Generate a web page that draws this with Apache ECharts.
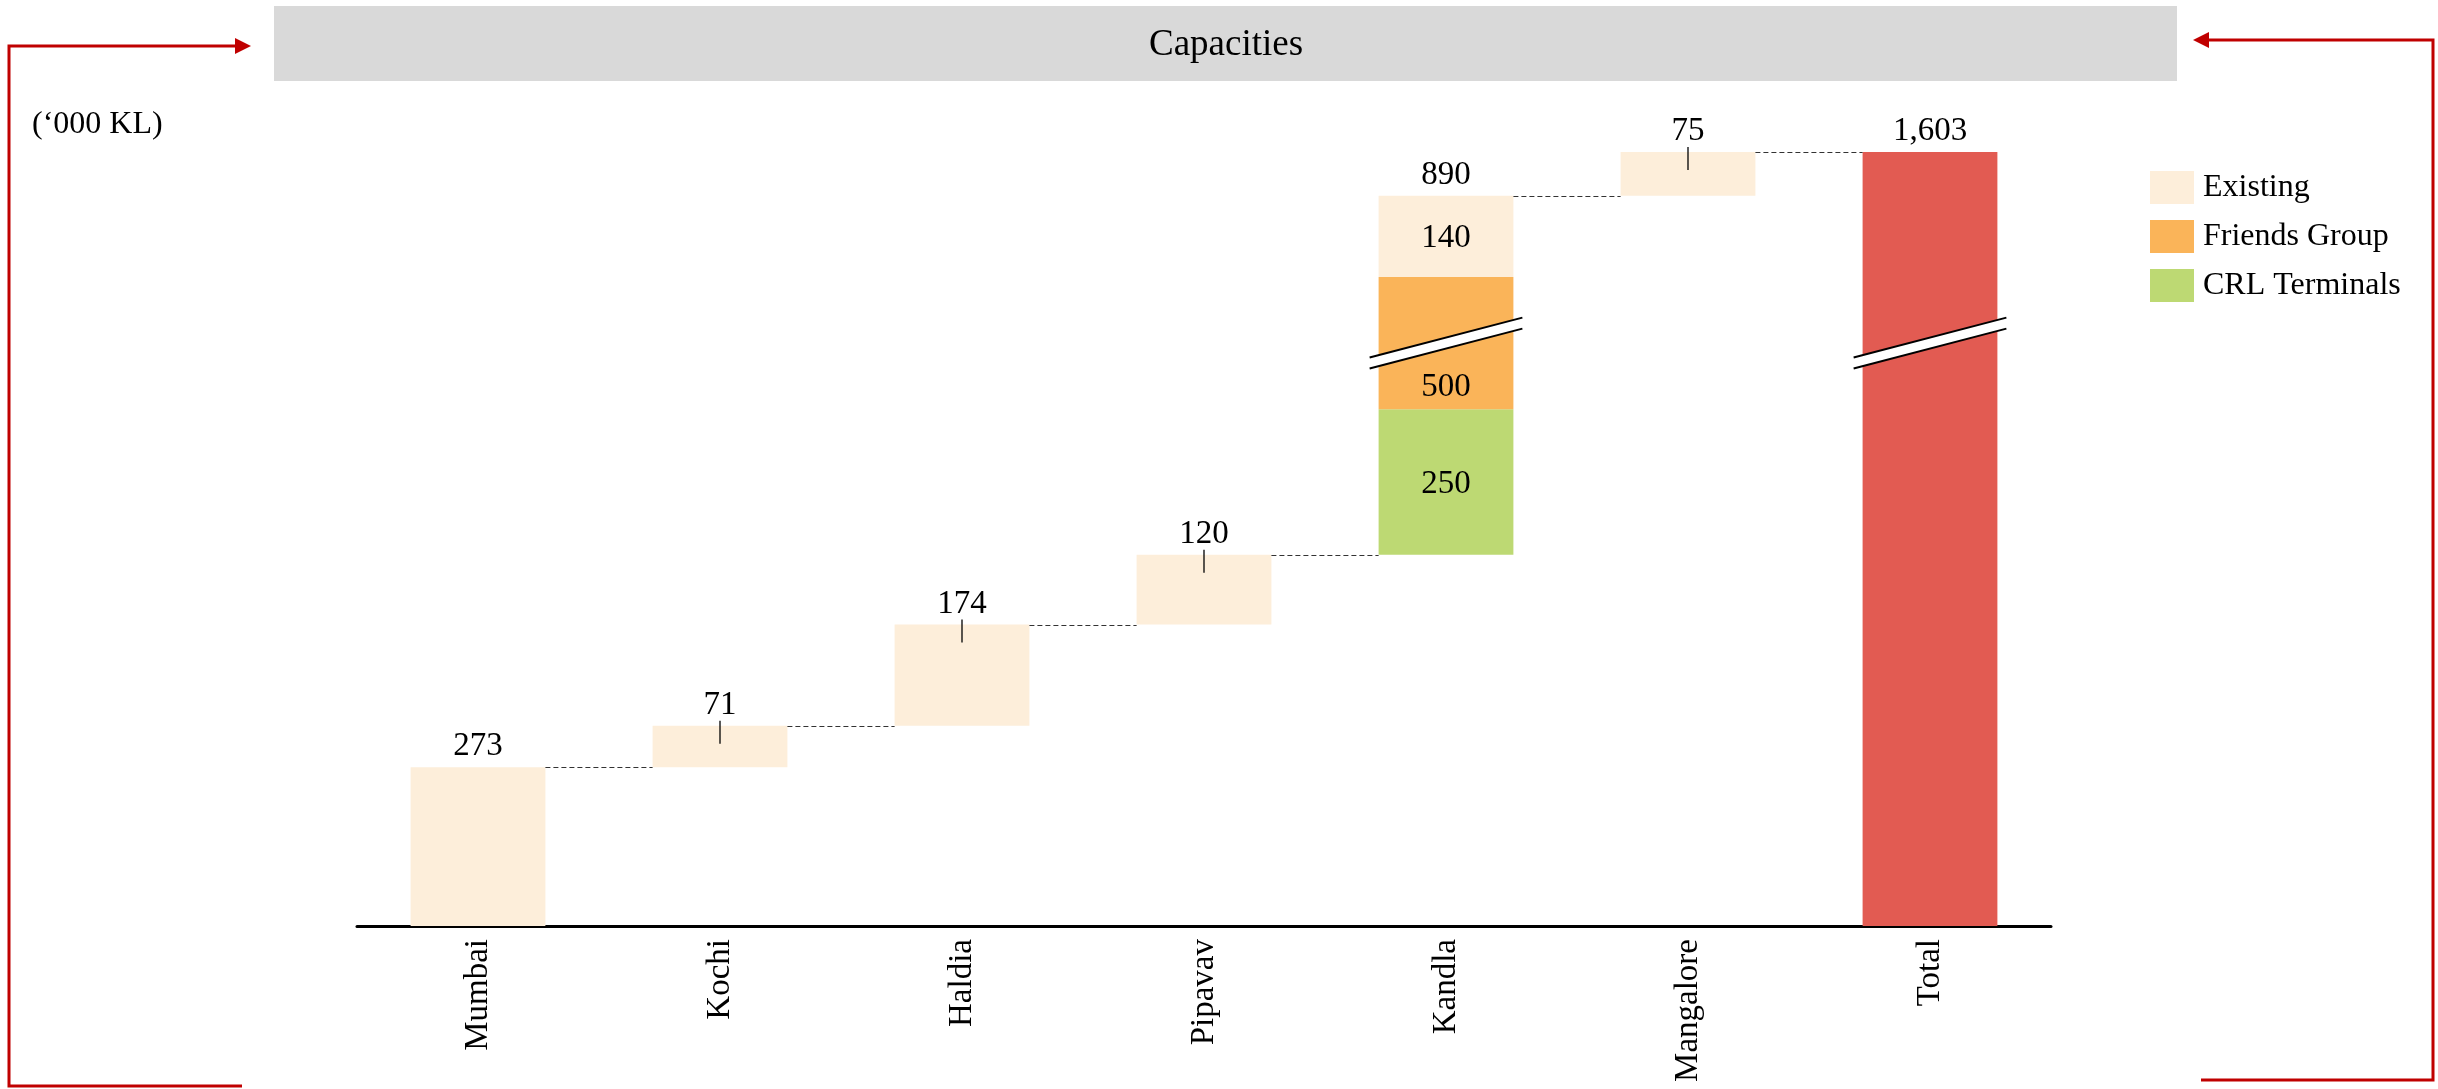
<!DOCTYPE html>
<html><head><meta charset="utf-8">
<script src="https://cdn.jsdelivr.net/npm/echarts@6/dist/echarts.min.js"></script>
<style>html,body{margin:0;padding:0;background:#fff}#chart{width:2438px;height:1089px}</style>
</head><body><div id="chart"></div>
<script>
// ---------- data ----------
const categories = ['Mumbai', 'Kochi', 'Haldia', 'Pipavav', 'Kandla', 'Mangalore', 'Total'];
const existing = [273, 71, 174, 120, 140, 75, null];
const friendsGroup = [null, null, null, null, 500, null, null];
const crlTerminals = [null, null, null, null, 250, null, null];
const total = [null, null, null, null, null, null, 1603];
const yBreak = { start: 1000, end: 1273 };

// ---------- styling constants ----------
const FONT = '"Liberation Serif", "Times New Roman", serif';
const BAR_RATIO = 0.557;
const C_EXIST = '#FDEEDA', C_FRIENDS = '#FAB459', C_CRL = '#BDD973', C_TOTAL = '#E25B52';

// ---------- derived waterfall ----------
const segs = categories.map((c, i) => [crlTerminals[i], friendsGroup[i], existing[i], total[i]].filter(v => v != null));
const sums = segs.map(s => s.reduce((a, b) => a + b, 0));
const base = [];
let run = 0;
categories.forEach((c, i) => {
  if (total[i] != null) { base.push(0); } else { base.push(run); run += sums[i]; }
});
const tops = base.map((b, i) => b + sums[i]);
const multi = segs.map(s => s.length > 1);
const withLabel = arr => arr.map((v, i) => v == null ? null : { value: v, label: { show: multi[i] } });

const chart = echarts.init(document.getElementById('chart'), null, { renderer: 'canvas' });

const barCommon = { type: 'bar', stack: 'w', barWidth: (BAR_RATIO * 100) + '%', silent: true };
const inLabel = { color: '#000', fontFamily: FONT, fontSize: 33, offset: [0, 2] };

const option = {
  animation: false,
  backgroundColor: '#fff',
  grid: { left: 357, right: 387, top: 152, bottom: 163, containLabel: false },
  legend: {
    data: ['Existing', 'Friends Group', 'CRL Terminals'],
    orient: 'vertical', left: 2145, top: 166,
    itemWidth: 44, itemHeight: 33, itemGap: 16, icon: 'rect', selectedMode: false,
    textStyle: { fontFamily: FONT, fontSize: 32, color: '#000', padding: [0, 0, 0, 4] }
  },
  xAxis: {
    type: 'category', data: categories,
    axisLine: { lineStyle: { color: '#000', width: 3 } },
    axisTick: { show: false },
    axisLabel: { rotate: 90, margin: 13, color: '#000', fontFamily: FONT, fontSize: 33 }
  },
  yAxis: {
    type: 'value', show: false, min: 0, max: Math.max(...tops),
    splitLine: { show: false },
    breaks: [{ start: yBreak.start, end: yBreak.end, gap: 0 }],
    breakArea: { show: false, itemStyle: { opacity: 0, borderWidth: 0 } }
  },
  series: [
    Object.assign({}, barCommon, { name: 'base', data: base, itemStyle: { color: 'rgba(0,0,0,0)' } }),
    Object.assign({}, barCommon, { name: 'CRL Terminals', data: withLabel(crlTerminals), itemStyle: { color: C_CRL },
      label: Object.assign({ position: 'inside' }, inLabel) }),
    Object.assign({}, barCommon, { name: 'Friends Group', data: withLabel(friendsGroup), itemStyle: { color: C_FRIENDS },
      label: Object.assign({ position: 'insideBottom', distance: 7 }, inLabel) }),
    Object.assign({}, barCommon, { name: 'Existing', data: withLabel(existing), itemStyle: { color: C_EXIST },
      label: Object.assign({ position: 'inside' }, inLabel) }),
    Object.assign({}, barCommon, { name: 'Total', data: total, itemStyle: { color: C_TOTAL } }),
    {
      // dashed connectors between consecutive bars
      type: 'custom', name: 'connectors', silent: true, z: 3,
      data: categories.slice(0, -1).map((c, i) => [i, tops[i]]),
      renderItem: (params, api) => {
        const p = api.coord([api.value(0), api.value(1)]);
        const band = api.size([1, 0])[0];
        const bw = band * BAR_RATIO;
        const y = Math.round(p[1]) + 0.5;
        return { type: 'line', shape: { x1: p[0] + bw / 2, y1: y, x2: p[0] + band - bw / 2, y2: y },
          style: { stroke: '#333333', lineWidth: 1.2, lineDash: [5, 3] } };
      }
    },
    {
      // top value labels (+ small tick for floating bars)
      type: 'custom', name: 'topLabels', silent: true, z: 5,
      data: categories.map((c, i) => [i, tops[i], sums[i], base[i], segs[i].length]),
      renderItem: (params, api) => {
        const p = api.coord([api.value(0), api.value(1)]);
        const sum = api.value(2), b = api.value(3), n = api.value(4);
        const children = [{
          type: 'text', x: p[0], y: p[1] - 20.5,
          style: { text: sum.toLocaleString('en-US'), align: 'center', verticalAlign: 'middle',
            fontFamily: FONT, fontSize: 33, fill: '#000' }
        }];
        if (b > 0 && n === 1) {
          children.push({ type: 'line', shape: { x1: p[0], y1: p[1] - 5, x2: p[0], y2: p[1] + 18 },
            style: { stroke: '#000', lineWidth: 1.3 } });
        }
        return { type: 'group', children };
      }
    },
    {
      // axis-break marks on the bars that cross the break
      type: 'custom', name: 'breakMarks', silent: true, z: 6,
      data: categories.map((c, i) => i).filter(i => base[i] < yBreak.start && tops[i] > yBreak.end).map(i => [i, yBreak.start]),
      renderItem: (params, api) => {
        const p = api.coord([api.value(0), api.value(1)]);
        const bw = api.size([1, 0])[0] * BAR_RATIO;
        const half = bw / 2 + 9;
        const rise = half * 0.261;
        const g = 11;
        const cx = p[0], cy = p[1] - 1;
        const x0 = cx - half, x1 = cx + half;
        const uL = cy - g / 2 + rise, uR = cy - g / 2 - rise;
        const lL = cy + g / 2 + rise, lR = cy + g / 2 - rise;
        return { type: 'group', children: [
          { type: 'polygon', shape: { points: [[x0, uL], [x1, uR], [x1, lR], [x0, lL]] }, style: { fill: '#fff' } },
          { type: 'line', shape: { x1: x0, y1: uL, x2: x1, y2: uR }, style: { stroke: '#000', lineWidth: 2 } },
          { type: 'line', shape: { x1: x0, y1: lL, x2: x1, y2: lR }, style: { stroke: '#000', lineWidth: 2 } }
        ] };
      }
    }
  ],
  graphic: [
    { type: 'rect', shape: { x: 274, y: 6, width: 1903, height: 75 }, style: { fill: '#D9D9D9' }, z: 0 },
    { type: 'text', x: 1226, y: 45.5, style: { text: 'Capacities', align: 'center', verticalAlign: 'middle',
      fontFamily: FONT, fontSize: 37, fill: '#000' }, z: 1 },
    { type: 'text', x: 32, y: 125, style: { text: '(\u2018000 KL)', align: 'left', verticalAlign: 'middle',
      fontFamily: FONT, fontSize: 32, fill: '#000' } },
    // left red bracket with arrow
    { type: 'polyline', shape: { points: [[242, 1086], [9, 1086], [9, 46], [237, 46]] },
      style: { stroke: '#C00000', lineWidth: 3, fill: null } },
    { type: 'polygon', shape: { points: [[235, 38], [251, 46], [235, 54]] }, style: { fill: '#C00000' } },
    // right red bracket with arrow
    { type: 'polyline', shape: { points: [[2201, 1080], [2433, 1080], [2433, 40], [2207, 40]] },
      style: { stroke: '#C00000', lineWidth: 3, fill: null } },
    { type: 'polygon', shape: { points: [[2209, 32], [2193, 40], [2209, 48]] }, style: { fill: '#C00000' } }
  ]
};
chart.setOption(option);
</script>
</body></html>
